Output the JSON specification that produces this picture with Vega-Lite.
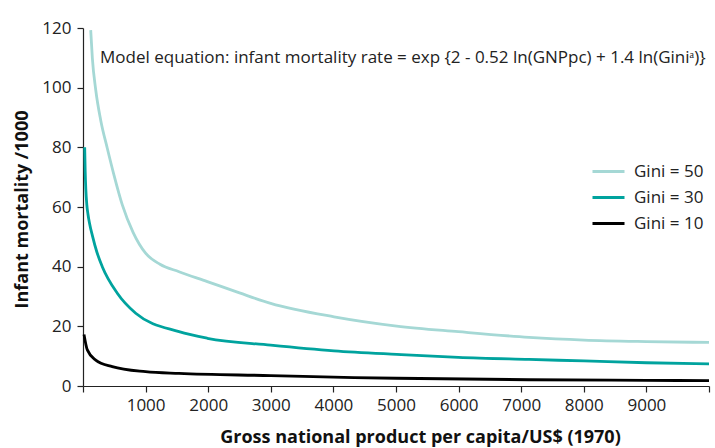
{
  "$schema": "https://vega.github.io/schema/vega-lite/v6.json",
  "width": 626,
  "height": 358,
  "autosize": {"type": "none"},
  "padding": {"left": 83, "top": 28, "right": 6, "bottom": 62},
  "config": {
    "view": {"stroke": null},
    "font": "Open Sans",
    "axis": {"grid": false, "domainColor": "#222", "tickColor": "#222", "labelColor": "#222", "titleColor": "#111", "labelFont": "Open Sans", "labelFontSize": 17, "titleFont": "Open Sans", "titleFontSize": 18, "titleFontWeight": "bold", "tickSize": 6, "domainWidth": 1.2, "tickWidth": 1.2}
  },
  "data": {"values": [
    {"series": "Gini = 50", "gnp": 123, "imr": 119.3},
    {"series": "Gini = 50", "gnp": 149, "imr": 110.0},
    {"series": "Gini = 50", "gnp": 203, "imr": 99.3},
    {"series": "Gini = 50", "gnp": 282, "imr": 89.2},
    {"series": "Gini = 50", "gnp": 388, "imr": 79.7},
    {"series": "Gini = 50", "gnp": 495, "imr": 70.7},
    {"series": "Gini = 50", "gnp": 628, "imr": 60.7},
    {"series": "Gini = 50", "gnp": 800, "imr": 51.5},
    {"series": "Gini = 50", "gnp": 1000, "imr": 44.5},
    {"series": "Gini = 50", "gnp": 1230, "imr": 40.8},
    {"series": "Gini = 50", "gnp": 1534, "imr": 38.3},
    {"series": "Gini = 50", "gnp": 1986, "imr": 35.0},
    {"series": "Gini = 50", "gnp": 2500, "imr": 31.2},
    {"series": "Gini = 50", "gnp": 2998, "imr": 27.7},
    {"series": "Gini = 50", "gnp": 4010, "imr": 23.2},
    {"series": "Gini = 50", "gnp": 5011, "imr": 20.1},
    {"series": "Gini = 50", "gnp": 5995, "imr": 18.2},
    {"series": "Gini = 50", "gnp": 7125, "imr": 16.3},
    {"series": "Gini = 50", "gnp": 8003, "imr": 15.4},
    {"series": "Gini = 50", "gnp": 9000, "imr": 14.9},
    {"series": "Gini = 50", "gnp": 10000, "imr": 14.6},
    {"series": "Gini = 30", "gnp": 27, "imr": 80.0},
    {"series": "Gini = 30", "gnp": 35, "imr": 72.0},
    {"series": "Gini = 30", "gnp": 45, "imr": 66.0},
    {"series": "Gini = 30", "gnp": 60, "imr": 61.0},
    {"series": "Gini = 30", "gnp": 80, "imr": 57.5},
    {"series": "Gini = 30", "gnp": 105, "imr": 54.5},
    {"series": "Gini = 30", "gnp": 149, "imr": 50.5},
    {"series": "Gini = 30", "gnp": 220, "imr": 45.0},
    {"series": "Gini = 30", "gnp": 308, "imr": 40.0},
    {"series": "Gini = 30", "gnp": 548, "imr": 31.1},
    {"series": "Gini = 30", "gnp": 842, "imr": 24.4},
    {"series": "Gini = 30", "gnp": 1534, "imr": 18.2},
    {"series": "Gini = 30", "gnp": 1986, "imr": 16.0},
    {"series": "Gini = 30", "gnp": 2998, "imr": 13.7},
    {"series": "Gini = 30", "gnp": 4010, "imr": 11.8},
    {"series": "Gini = 30", "gnp": 5011, "imr": 10.6},
    {"series": "Gini = 30", "gnp": 5995, "imr": 9.6},
    {"series": "Gini = 30", "gnp": 7125, "imr": 8.9},
    {"series": "Gini = 30", "gnp": 8003, "imr": 8.4},
    {"series": "Gini = 30", "gnp": 9000, "imr": 7.8},
    {"series": "Gini = 30", "gnp": 10000, "imr": 7.4},
    {"series": "Gini = 10", "gnp": 16, "imr": 17.3},
    {"series": "Gini = 10", "gnp": 69, "imr": 12.1},
    {"series": "Gini = 10", "gnp": 203, "imr": 8.7},
    {"series": "Gini = 10", "gnp": 468, "imr": 6.5},
    {"series": "Gini = 10", "gnp": 1000, "imr": 4.8},
    {"series": "Gini = 10", "gnp": 1534, "imr": 4.2},
    {"series": "Gini = 10", "gnp": 2998, "imr": 3.5},
    {"series": "Gini = 10", "gnp": 4329, "imr": 2.8},
    {"series": "Gini = 10", "gnp": 5011, "imr": 2.6},
    {"series": "Gini = 10", "gnp": 7125, "imr": 2.1},
    {"series": "Gini = 10", "gnp": 9000, "imr": 1.9},
    {"series": "Gini = 10", "gnp": 10000, "imr": 1.8}
  ]},
  "layer": [
    {
      "mark": {"type": "line", "strokeWidth": 2.8, "interpolate": "monotone"},
      "encoding": {
        "x": {"field": "gnp", "type": "quantitative", "scale": {"domain": [0, 10000], "nice": false},
          "axis": {"values": [0, 1000, 2000, 3000, 4000, 5000, 6000, 7000, 8000, 9000, 10000], "labelExpr": "datum.value == 0 || datum.value == 10000 ? '' : datum.value", "labelPadding": 5, "title": "Gross national product per capita/US$ (1970)", "titleX": 337, "titleY": 56, "titleBaseline": "alphabetic", "titleAlign": "center"}},
        "y": {"field": "imr", "type": "quantitative", "scale": {"domain": [0, 120], "nice": false},
          "axis": {"values": [0, 20, 40, 60, 80, 100, 120], "labelPadding": 6, "title": "Infant mortality /1000", "titleX": -61, "titleY": 181, "titleBaseline": "middle", "titleAlign": "center"}},
        "color": {"field": "series", "type": "nominal",
          "scale": {"domain": ["Gini = 50", "Gini = 30", "Gini = 10"], "range": ["#a5d8d5", "#00a39e", "#000000"]},
          "legend": {"orient": "none", "legendX": 508, "legendY": 126, "title": null, "symbolType": "stroke", "symbolSize": 1024, "symbolStrokeWidth": 3, "labelFont": "Open Sans", "labelFontSize": 17, "labelColor": "#222", "labelOffset": 8, "rowPadding": -10}}
      }
    },
    {
      "data": {"values": [{"gnp": 272, "imr": 108.3, "label": "Model equation: infant mortality rate = exp {2 - 0.52 ln(GNPpc) + 1.4 ln(Giniᵃ)}"}]},
      "mark": {"type": "text", "align": "left", "baseline": "alphabetic", "fontSize": 17, "font": "Open Sans", "color": "#222"},
      "encoding": {
        "x": {"field": "gnp", "type": "quantitative"},
        "y": {"field": "imr", "type": "quantitative"},
        "text": {"field": "label"}
      }
    }
  ]
}
